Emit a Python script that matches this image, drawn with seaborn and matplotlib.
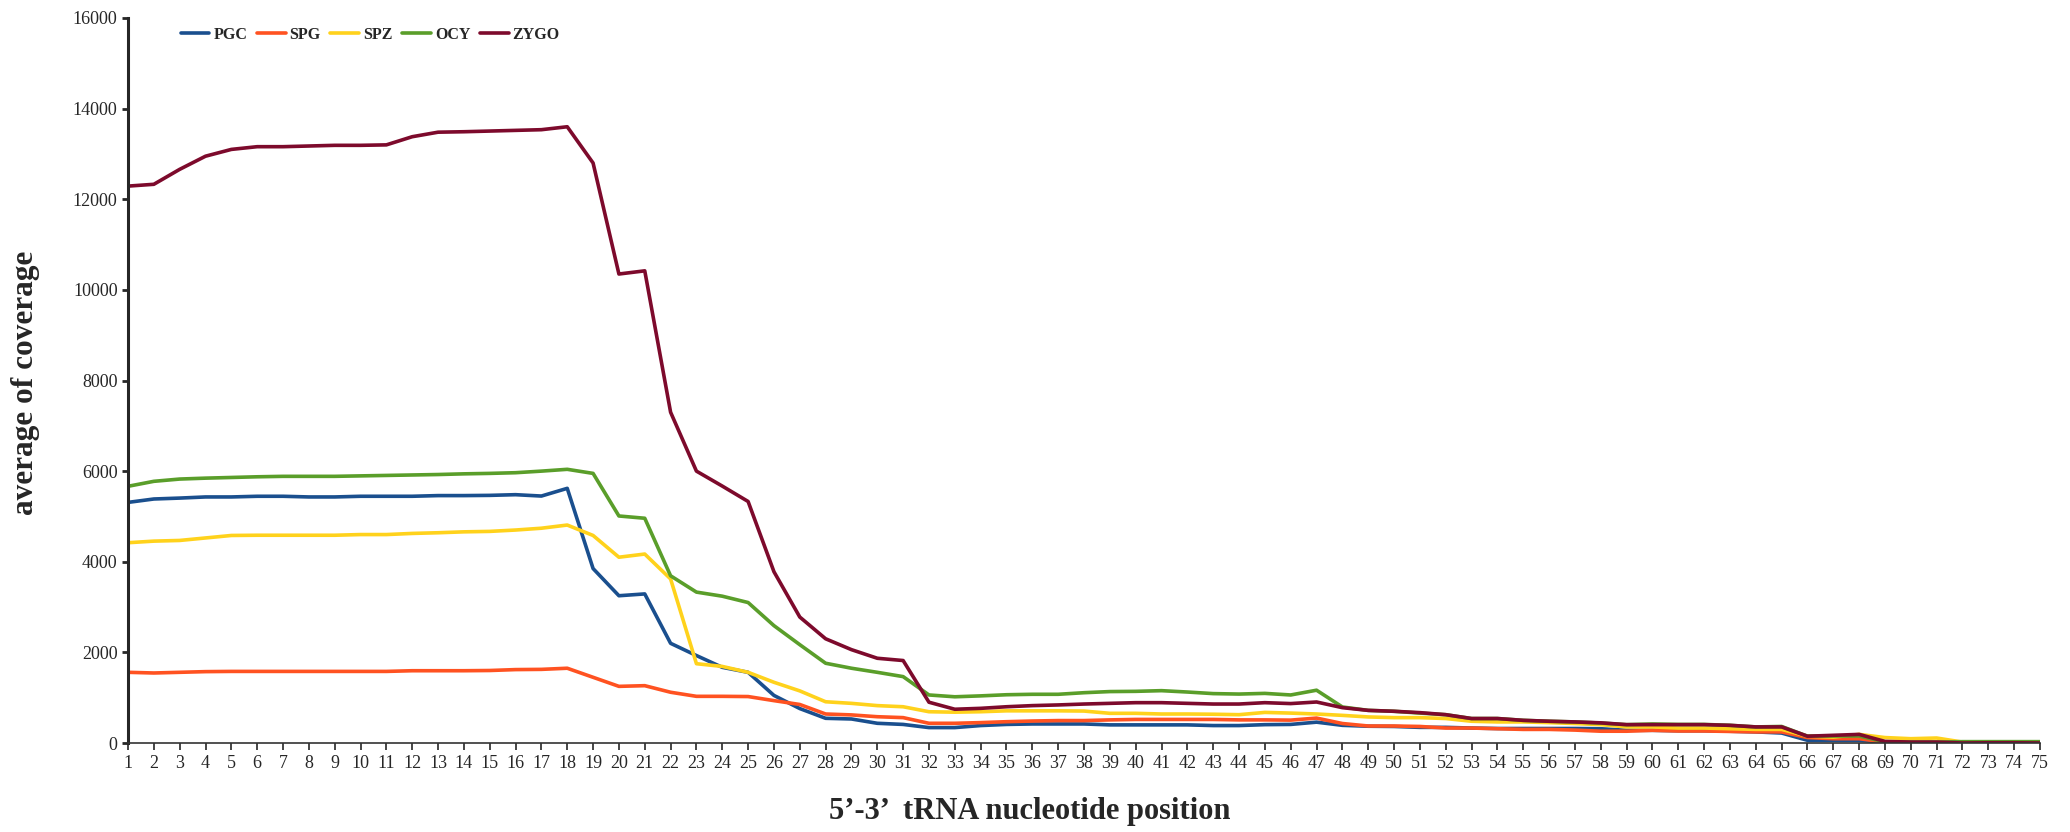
import numpy as np
import pandas as pd
import matplotlib
from matplotlib import pyplot as plt
import seaborn as sns

sns.set_style("ticks")
matplotlib.rcParams['font.family'] = ['Liberation Serif', 'DejaVu Serif']

positions = list(range(1, 76))
samples = ['PGC', 'SPG', 'SPZ', 'OCY', 'ZYGO']
colors = ['#1a4f8e', '#ff5221', '#ffd21c', '#5a9e2a', '#7d0a2c']

pgc = [5310, 5385, 5405, 5430, 5430, 5445, 5445, 5430, 5430, 5445,
       5445, 5445, 5460, 5460, 5465, 5480, 5450, 5620, 3850, 3250,
       3290, 2200, 1930, 1670, 1560, 1050, 760, 545, 530, 435,
       410, 340, 340, 385, 410, 420, 420, 420, 400, 400,
       400, 400, 385, 385, 405, 410, 460, 390, 370, 365,
       345, 345, 330, 320, 320, 320, 320, 315, 280, 280,
       270, 270, 260, 245, 220, 60, 60, 60, 20, 5,
       5, 5, 5, 5, 5]
spg = [1560, 1545, 1560, 1575, 1580, 1580, 1580, 1580, 1580, 1580,
       1580, 1595, 1595, 1595, 1600, 1620, 1625, 1650, 1450, 1250,
       1265, 1120, 1030, 1030, 1025, 935, 850, 640, 620, 580,
       560, 435, 435, 450, 470, 485, 495, 495, 510, 520,
       520, 520, 520, 510, 510, 505, 550, 430, 375, 375,
       365, 330, 330, 315, 300, 300, 285, 260, 260, 280,
       265, 265, 255, 245, 245, 120, 95, 95, 20, 10,
       10, 10, 10, 10, 10]
spz = [4420, 4455, 4470, 4525, 4580, 4585, 4585, 4585, 4585, 4600,
       4600, 4625, 4640, 4660, 4670, 4700, 4740, 4810, 4580, 4100,
       4170, 3620, 1750, 1690, 1560, 1340, 1150, 910, 875, 825,
       800, 690, 680, 690, 710, 710, 710, 705, 655, 655,
       640, 640, 635, 625, 675, 660, 640, 610, 575, 560,
       560, 540, 480, 465, 465, 450, 430, 405, 355, 355,
       330, 330, 315, 300, 300, 150, 130, 190, 120, 95,
       110, 20, 15, 15, 15]
ocy = [5665, 5775, 5825, 5845, 5860, 5875, 5885, 5885, 5885, 5895,
       5905, 5915, 5925, 5940, 5950, 5965, 6000, 6040, 5950, 5010,
       4960, 3690, 3330, 3240, 3100, 2590, 2170, 1760, 1650, 1560,
       1465, 1060, 1020, 1040, 1065, 1075, 1075, 1110, 1135, 1140,
       1155, 1125, 1090, 1080, 1095, 1060, 1165, 795, 720, 700,
       660, 625, 540, 540, 500, 480, 465, 440, 405, 420,
       410, 410, 390, 355, 365, 150, 155, 155, 25, 20,
       20, 30, 30, 30, 30]
zygo = [12290, 12330, 12660, 12950, 13100, 13160, 13160, 13175, 13190, 13190,
        13200, 13380, 13480, 13490, 13505, 13520, 13535, 13600, 12800, 10350,
        10420, 7300, 6000, 5670, 5330, 3780, 2780, 2300, 2060, 1870,
        1820, 900, 745, 765, 800, 825, 840, 860, 875, 890,
        890, 875, 860, 860, 890, 870, 905, 780, 720, 700,
        670, 625, 540, 540, 500, 480, 465, 445, 405, 405,
        405, 405, 390, 355, 355, 150, 170, 190, 35, 20,
        20, 0, 5, 5, 0]

df = pd.DataFrame({'position': positions, 'PGC': pgc, 'SPG': spg,
                   'SPZ': spz, 'OCY': ocy, 'ZYGO': zygo})
long = df.melt(id_vars='position', var_name='sample', value_name='coverage')

fig = plt.figure(figsize=(20.7, 8.32), dpi=100)
ax = fig.add_axes([128/2070, 1 - 743/832, (2040 - 128)/2070, (743 - 18)/832])

sns.lineplot(data=long, x='position', y='coverage', hue='sample',
             hue_order=samples, palette=colors, linewidth=2.6, ax=ax)

ax.set_xlim(1, 75)
ax.set_ylim(0, 16000)
ax.set_xticks(positions)
ax.set_yticks(range(0, 16001, 2000))
ax.tick_params(axis='both', direction='out', labelsize=13, length=5, width=1.2)
ax.tick_params(axis='y', length=4, width=2)
sns.despine(ax=ax)
ax.spines['left'].set_linewidth(2.2)
ax.spines['bottom'].set_linewidth(1.2)
ax.spines['bottom'].set_color('#333333')

# axis titles placed in figure coords like the original
ax.set_xlabel('')
ax.set_ylabel('')
fig.text(1030/2070, 1 - 812/832, "5\u2019-3\u2019  tRNA nucleotide position",
         fontsize=22, fontweight='bold', ha='center', va='center')
fig.text(26/2070, 1 - 383/832, 'average of coverage', fontsize=22.5,
         fontweight='bold', rotation=90, ha='center', va='center')

ax.legend(loc='upper left', bbox_to_anchor=(0.02, 1.008), ncol=5, frameon=False,
          prop={'weight': 'bold', 'size': 11.5}, handlelength=1.8,
          columnspacing=0.6, handletextpad=0.25)

plt.savefig('out.png', dpi=100)
